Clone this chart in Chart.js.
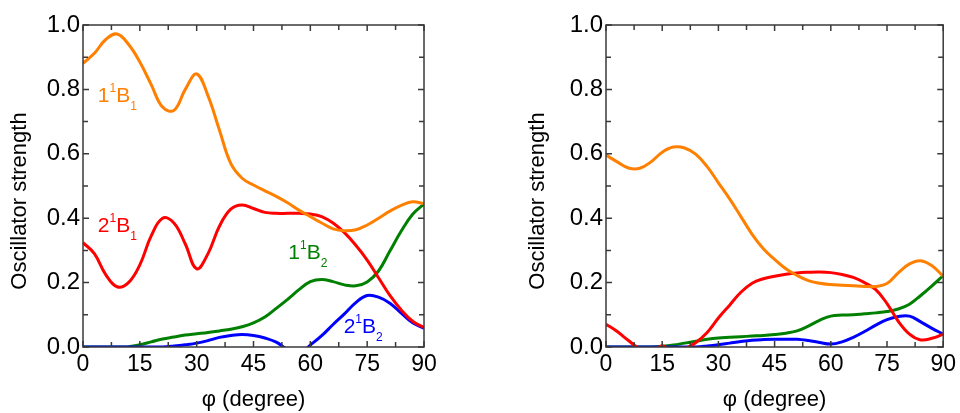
<!DOCTYPE html>
<html>
<head>
<meta charset="utf-8">
<script src="https://cdn.jsdelivr.net/npm/chart.js@4.4.0/dist/chart.umd.min.js"></script>
<style>
  body { margin: 0; background: #fff; }
  #wrap { position: relative; width: 960px; height: 413px; }
  .panel { position: absolute; top: 0; }
</style>
</head>
<body>
<div id="wrap">
  <div class="panel" style="left:0"><canvas id="leftChart" width="470" height="413"></canvas></div>
  <div class="panel" style="left:470px"><canvas id="rightChart" width="490" height="413"></canvas></div>
</div>
<script>
// torsion angle grid (degrees)
const phi = [0, 3, 6, 9, 12, 15, 18, 21, 24, 27, 30, 33, 36, 39, 42, 45, 48, 51, 54, 57, 60, 63, 66, 69, 72, 75, 78, 81, 84, 87, 90];
const xTicks = [0, 15, 30, 45, 60, 75, 90];
const yTicks = [0, 0.2, 0.4, 0.6, 0.8, 1.0];

// left panel
const left11B1 = [0.881, 0.912, 0.955, 0.972, 0.94, 0.885, 0.815, 0.745, 0.735, 0.8, 0.848, 0.78, 0.674, 0.57, 0.524, 0.503, 0.485, 0.468, 0.448, 0.425, 0.405, 0.385, 0.367, 0.361, 0.364, 0.379, 0.4, 0.422, 0.44, 0.451, 0.445];
const left21B1 = [0.324, 0.29, 0.225, 0.187, 0.2, 0.255, 0.345, 0.4, 0.385, 0.32, 0.243, 0.29, 0.375, 0.428, 0.441, 0.43, 0.418, 0.415, 0.415, 0.415, 0.413, 0.405, 0.385, 0.355, 0.316, 0.27, 0.215, 0.16, 0.115, 0.08, 0.061];
const left11B2 = [0, 0, 0, 0, 0.001, 0.007, 0.016, 0.025, 0.031, 0.037, 0.041, 0.045, 0.05, 0.055, 0.063, 0.075, 0.093, 0.12, 0.148, 0.178, 0.203, 0.21, 0.203, 0.193, 0.19, 0.202, 0.236, 0.298, 0.36, 0.412, 0.444];
const left21B2 = [0, 0, 0, 0, 0, 0, 0, 0, 0.003, 0.007, 0.012, 0.02, 0.03, 0.036, 0.039, 0.036, 0.028, 0.015, -0.008, -0.022, 0.006, 0.035, 0.07, 0.103, 0.138, 0.16, 0.155, 0.136, 0.105, 0.075, 0.058];

// right panel
const right11B1 = [0.596, 0.575, 0.556, 0.555, 0.575, 0.605, 0.621, 0.618, 0.598, 0.56, 0.51, 0.46, 0.405, 0.35, 0.305, 0.272, 0.243, 0.222, 0.206, 0.198, 0.194, 0.192, 0.19, 0.188, 0.188, 0.197, 0.23, 0.258, 0.268, 0.252, 0.22];
const right21B1 = [0.071, 0.048, 0.02, -0.006, -0.018, 0.004, -0.018, -0.006, 0.014, 0.045, 0.09, 0.13, 0.17, 0.198, 0.212, 0.22, 0.226, 0.23, 0.232, 0.233, 0.231, 0.225, 0.216, 0.2, 0.178, 0.135, 0.08, 0.04, 0.022, 0.027, 0.04];
const right11B2 = [0, 0, 0, 0, 0, 0.002, 0.006, 0.012, 0.018, 0.024, 0.028, 0.03, 0.032, 0.034, 0.036, 0.039, 0.043, 0.05, 0.065, 0.083, 0.096, 0.099, 0.1, 0.103, 0.106, 0.11, 0.118, 0.133, 0.16, 0.19, 0.222];
const right21B2 = [0, 0, 0, 0, 0, 0, 0, 0, 0, 0.003, 0.007, 0.012, 0.017, 0.021, 0.023, 0.024, 0.024, 0.024, 0.02, 0.014, 0.009, 0.016, 0.03, 0.048, 0.068, 0.085, 0.095, 0.096, 0.078, 0.058, 0.04];

const FONT = "'Liberation Sans', Arial, sans-serif";
const colors = { b1a: '#ff8000', b1b: '#ff0000', b2a: '#008000', b2b: '#0000ff' };

// state labels: [number, superscript, letter, subscript], anchored in data units
const leftLabels = [
  { parts: ['1', '1', 'B', '1'], x: 3.9, y: 0.761, color: colors.b1a },
  { parts: ['2', '1', 'B', '1'], x: 3.9, y: 0.357, color: colors.b1b },
  { parts: ['1', '1', 'B', '2'], x: 54.2, y: 0.273, color: colors.b2a },
  { parts: ['2', '1', 'B', '2'], x: 68.8, y: 0.043, color: colors.b2b }
];

function toPoints(vals) {
  return vals.map((v, i) => ({ x: phi[i], y: v }));
}

function line(vals, color) {
  return {
    data: toPoints(vals),
    borderColor: color,
    borderWidth: 3,
    pointRadius: 0,
    fill: false,
    tension: 0.4
  };
}

// frame with inward ticks on all four sides, plus rotated y title
const boxTicks = {
  id: 'boxTicks',
  afterDatasetsDraw(chart, args, opts) {
    const { ctx, chartArea: a, scales: { x, y } } = chart;
    ctx.save();
    ctx.strokeStyle = '#3a3a3a';
    ctx.lineWidth = 1.5;
    ctx.beginPath();
    for (let v = 0; v <= 90; v += 7.5) {
      const px = x.getPixelForValue(v);
      const len = v % 15 === 0 ? 6 : 5;
      ctx.moveTo(px, a.bottom); ctx.lineTo(px, a.bottom - len);
      ctx.moveTo(px, a.top); ctx.lineTo(px, a.top + len);
    }
    for (let i = 0; i <= 10; i++) {
      const py = y.getPixelForValue(i / 10);
      const len = i % 2 === 0 ? 6 : 5;
      ctx.moveTo(a.left, py); ctx.lineTo(a.left + len, py);
      ctx.moveTo(a.right, py); ctx.lineTo(a.right - len, py);
    }
    ctx.stroke();
    ctx.strokeRect(a.left, a.top, a.right - a.left, a.bottom - a.top);

    ctx.fillStyle = '#000';
    ctx.font = '22px ' + FONT;
    ctx.textAlign = 'center';
    ctx.textBaseline = 'middle';
    ctx.translate(opts.titleX, opts.titleY);
    ctx.rotate(-Math.PI / 2);
    ctx.fillText('Oscillator strength', 0, 0);
    ctx.restore();
  }
};

const stateLabels = {
  id: 'stateLabels',
  afterDatasetsDraw(chart, args, opts) {
    if (!opts.items) return;
    const { ctx, scales: { x, y } } = chart;
    ctx.save();
    ctx.textBaseline = 'alphabetic';
    ctx.textAlign = 'left';
    opts.items.forEach(item => {
      let px = x.getPixelForValue(item.x);
      const py = y.getPixelForValue(item.y);
      const [num, sup, letter, sub] = item.parts;
      ctx.fillStyle = item.color;
      ctx.font = '21px ' + FONT;
      ctx.fillText(num, px, py);
      px += ctx.measureText(num).width;
      ctx.font = '12px ' + FONT;
      ctx.fillText(sup, px, py - 10);
      px += ctx.measureText(sup).width;
      ctx.font = '21px ' + FONT;
      ctx.fillText(letter, px, py);
      px += ctx.measureText(letter).width;
      ctx.font = '12px ' + FONT;
      ctx.fillText(sub, px, py + 8);
    });
    ctx.restore();
  }
};

function buildChart(id, series, yWidth, padRight, titleX, labels) {
  return new Chart(document.getElementById(id), {
    type: 'line',
    data: {
      datasets: [
        line(series[0], colors.b1a),
        line(series[1], colors.b1b),
        line(series[2], colors.b2b),
        line(series[3], colors.b2a)
      ]
    },
    options: {
      responsive: false,
      animation: false,
      layout: { padding: { top: 25, right: padRight, left: 0, bottom: 0 } },
      plugins: {
        legend: { display: false },
        tooltip: { enabled: false },
        boxTicks: { titleX: titleX, titleY: 201 },
        stateLabels: { items: labels }
      },
      scales: {
        x: {
          type: 'linear',
          min: 0,
          max: 90,
          afterBuildTicks: s => { s.ticks = xTicks.map(v => ({ value: v })); },
          afterFit: s => { s.height = 66; },
          grid: { display: false, drawTicks: false },
          border: { display: false },
          ticks: { color: '#000', padding: 4, maxRotation: 0, font: { family: FONT, size: 23 } },
          title: { display: true, text: 'φ (degree)', color: '#000', padding: 0, font: { family: FONT, size: 22 } }
        },
        y: {
          min: 0,
          max: 1,
          afterBuildTicks: s => { s.ticks = yTicks.map(v => ({ value: v })); },
          afterFit: s => { s.width = yWidth; },
          grid: { display: false, drawTicks: false },
          border: { display: false },
          ticks: { color: '#000', padding: 3, font: { family: FONT, size: 24 }, callback: v => v.toFixed(1) }
        }
      }
    },
    plugins: [boxTicks, stateLabels]
  });
}

buildChart('leftChart', [left11B1, left21B1, left21B2, left11B2], 83, 46, 20, leftLabels);
buildChart('rightChart', [right11B1, right21B1, right21B2, right11B2], 136, 14, 68, []);
</script>
</body>
</html>
